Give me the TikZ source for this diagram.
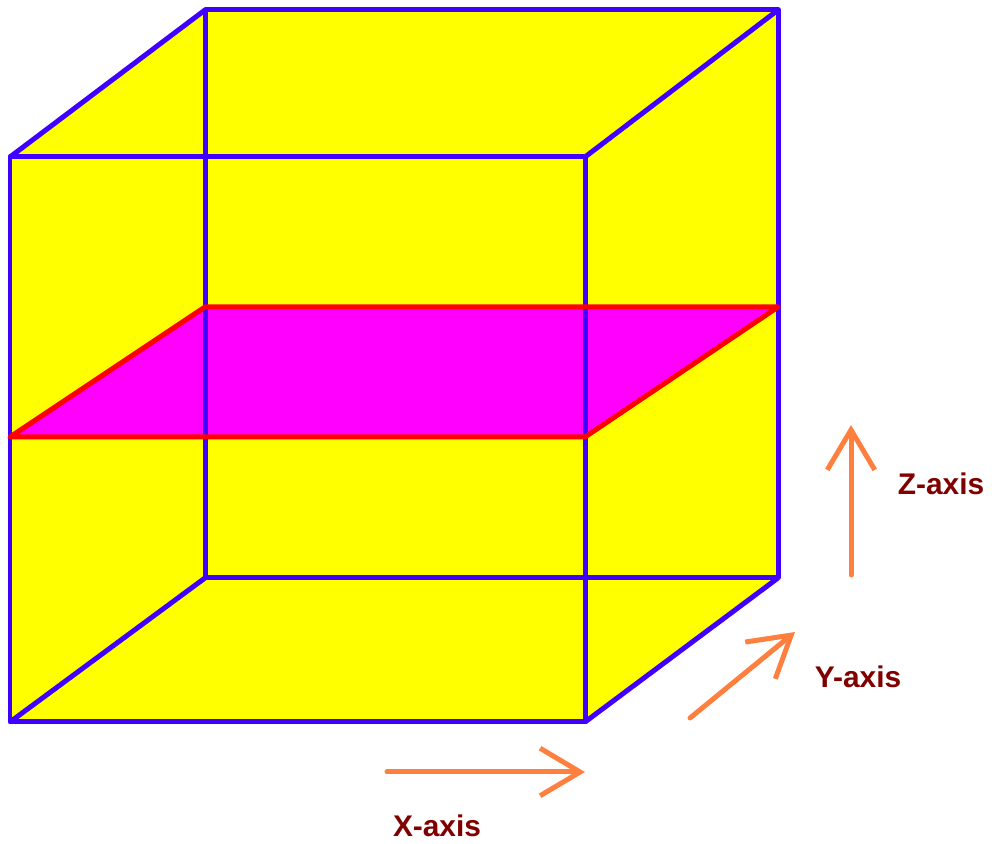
\documentclass[tikz,border=0pt]{standalone}
\usepackage{fontspec}
\setmainfont{Liberation Sans}
\usetikzlibrary{arrows.meta}
\definecolor{CubeBlue}{HTML}{4000FF}
\definecolor{CubeFill}{HTML}{FFFF00}
\definecolor{PlaneFill}{HTML}{FF00FF}
\definecolor{PlaneEdge}{HTML}{FF0000}
\definecolor{AxisOrange}{HTML}{FF7F3F}
\definecolor{AxisText}{HTML}{800000}

\begin{document}
\begin{tikzpicture}[x=0.02cm, y=-0.02cm,
    edge/.style={CubeBlue, line width=0.1cm, line join=round},
    cut/.style={PlaneEdge, line width=0.1cm, line join=round},
    axis/.style={AxisOrange, line width=0.1cm, line cap=round,
      -{Straight Barb[length=0.8cm, width=0.95cm, line width=0.1cm]}},
    axislabel/.style={text=AxisText, font=\bfseries\fontsize{17}{20}\selectfont}]
  \useasboundingbox (0,0) rectangle (992,844);
  % cube corners (front face and back face)
  \coordinate (f1) at (10,157);  \coordinate (f2) at (585,157);
  \coordinate (f3) at (585,722); \coordinate (f4) at (10,722);
  \coordinate (b1) at (205,10);  \coordinate (b2) at (778,10);
  \coordinate (b3) at (778,578); \coordinate (b4) at (205,578);
  % cutting plane corners
  \coordinate (p1) at (10,437);  \coordinate (p2) at (585,437);
  \coordinate (p3) at (778,307); \coordinate (p4) at (205,307);
  % yellow body, then the magenta plane
  \fill[CubeFill] (f4) -- (f1) -- (b1) -- (b2) -- (b3) -- (f3) -- cycle;
  \fill[PlaneFill] (p1) -- (p2) -- (p3) -- (p4) -- cycle;
  % blue edges
  \draw[edge] (b1) rectangle (b3);
  \draw[edge] (f1) rectangle (f3);
  \draw[edge] (f1) -- (b1) (f2) -- (b2) (f3) -- (b3) (f4) -- (b4);
  % red outline of the plane
  \draw[cut] (p1) -- (p2) -- (p3) -- (p4) -- cycle;
  % axes
  \coordinate (x0) at (387,772); \coordinate (x1) at (585,772);
  \coordinate (y0) at (690,718); \coordinate (y1) at (795,632);
  \coordinate (z0) at (851,575); \coordinate (z1) at (851,425);
  \draw[axis] (x0) -- (x1);
  \draw[axis] (y0) -- (y1);
  \draw[axis] (z0) -- (z1);
  \node[axislabel] (xlab) at (437,826) {X-axis};
  \node[axislabel] (ylab) at (858,677) {Y-axis};
  \node[axislabel] (zlab) at (941,484) {Z-axis};
\end{tikzpicture}
\end{document}
